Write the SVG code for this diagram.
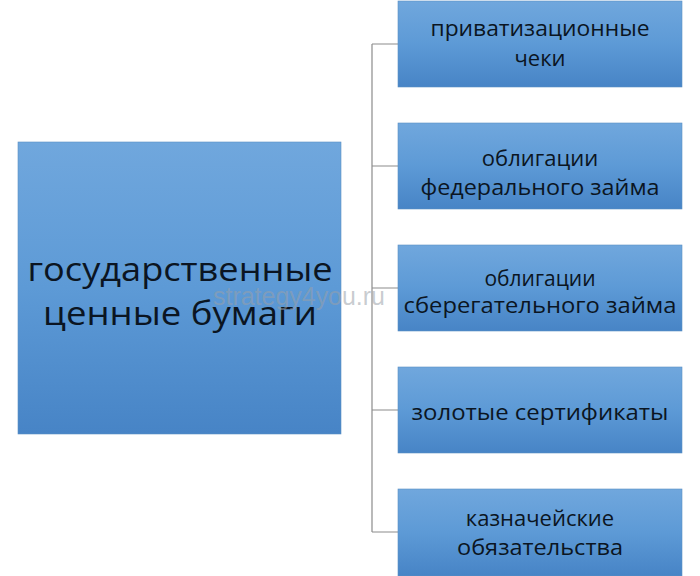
<svg xmlns="http://www.w3.org/2000/svg" width="700" height="576" viewBox="0 0 700 576">
<defs>
<linearGradient id="g" x1="0" y1="0" x2="0" y2="1">
<stop offset="0" stop-color="#70a7dd"/>
<stop offset="0.5" stop-color="#5d9ad6"/>
<stop offset="1" stop-color="#4784c6"/>
</linearGradient>
<style>
.box{fill:url(#g);stroke:#5a8fc4;stroke-width:0.6}
.t{font-family:"Open Sans","Noto Sans","Liberation Sans",sans-serif;fill:#0b1522;text-anchor:middle}
.s{font-size:22px}
.s2{font-size:21px}
.m{font-size:33px}
.c{fill:none;stroke:#8c8c8c;stroke-width:1.2}
.wm{font-family:"Liberation Sans",sans-serif;font-size:25px;fill:#9aa0a8;fill-opacity:0.55}
</style>
</defs>
<rect width="700" height="576" fill="#ffffff"/>
<g id="connectors">
<path class="c" d="M372 44V532M372 44H398M372 166H398M372 288H398M372 410H398M372 532H398"/>
</g>
<g id="main">
<rect class="box" x="18" y="142" width="323" height="292"/>
<text class="t m" x="180" y="281" textLength="305" lengthAdjust="spacingAndGlyphs">государственные</text>
<text class="t m" x="180" y="325" textLength="274" lengthAdjust="spacingAndGlyphs">ценные бумаги</text>
</g>
<g id="n1">
<rect class="box" x="398" y="1" width="284" height="86"/>
<text class="t s" x="540" y="36" textLength="219" lengthAdjust="spacingAndGlyphs">приватизационные</text>
<text class="t s" x="540" y="66">чеки</text>
</g>
<g id="n2">
<rect class="box" x="398" y="123" width="284" height="86"/>
<text class="t s" x="540" y="166">облигации</text>
<text class="t s" x="540" y="195" textLength="239" lengthAdjust="spacingAndGlyphs">федерального займа</text>
</g>
<g id="n3">
<rect class="box" x="398" y="245" width="284" height="86"/>
<text class="t s2" x="540" y="286">облигации</text>
<text class="t s2" x="540" y="313" textLength="273" lengthAdjust="spacingAndGlyphs">сберегательного займа</text>
</g>
<g id="n4">
<rect class="box" x="398" y="367" width="284" height="86"/>
<text class="t s" x="540" y="420" textLength="257" lengthAdjust="spacingAndGlyphs">золотые сертификаты</text>
</g>
<g id="n5">
<rect class="box" x="398" y="489" width="284" height="87"/>
<text class="t s" x="540" y="526">казначейские</text>
<text class="t s" x="540" y="555" textLength="166" lengthAdjust="spacingAndGlyphs">обязательства</text>
</g>
<text class="wm" x="213" y="305" textLength="172" lengthAdjust="spacingAndGlyphs">strategy4you.ru</text>
</svg>
